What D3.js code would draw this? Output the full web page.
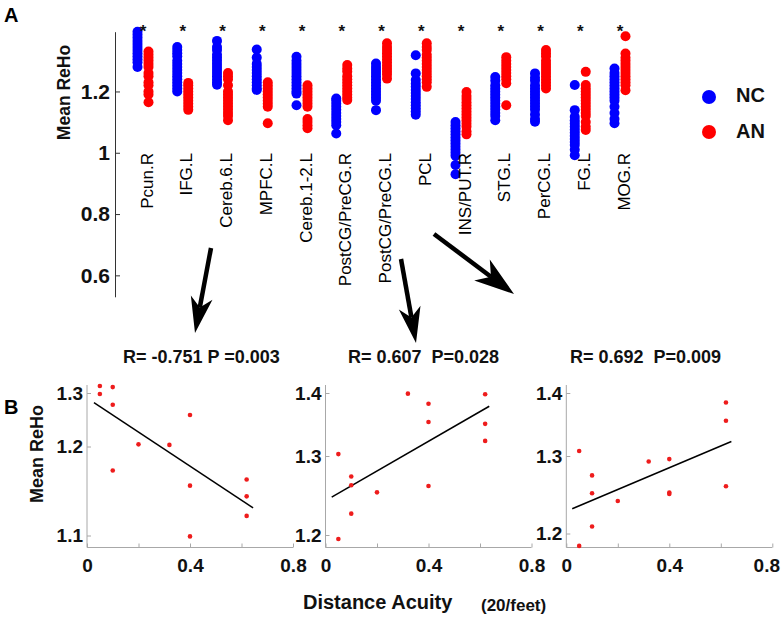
<!DOCTYPE html>
<html>
<head>
<meta charset="utf-8">
<script src="https://cdn.jsdelivr.net/npm/d3@7"></script>
<style>
  html, body { margin: 0; padding: 0; background: #fff; }
  svg { display: block; font-family: "Liberation Sans", Arial, Helvetica, sans-serif; }
</style>
</head>
<body>
<svg id="chart" width="784" height="620"></svg>
<script>
// ---------- Panel A data ----------
const categories = ["Pcun.R","IFG.L","Cereb.6.L","MPFC.L","Cereb.1-2.L","PostCG/PreCG.R","PostCG/PreCG.L","PCL","INS/PUT.R","STG.L","PerCG.L","FG.L","MOG.R"];
const ncValues = [
  [1.395,1.385,1.375,1.365,1.355,1.345,1.335,1.325,1.315,1.305,1.295,1.28],
  [1.345,1.335,1.325,1.315,1.30,1.29,1.28,1.27,1.26,1.25,1.24,1.23,1.22,1.21,1.20],
  [1.365,1.345,1.335,1.32,1.31,1.30,1.29,1.28,1.27,1.26,1.25,1.24,1.23,1.222],
  [1.337,1.311,1.29,1.28,1.27,1.26,1.25,1.24,1.23,1.22,1.21,1.205],
  [1.313,1.30,1.29,1.28,1.27,1.26,1.25,1.24,1.23,1.22,1.21,1.20,1.193,1.155],
  [1.177,1.17,1.16,1.15,1.14,1.13,1.12,1.11,1.10,1.09,1.063],
  [1.291,1.28,1.27,1.26,1.25,1.24,1.23,1.22,1.21,1.20,1.19,1.18,1.17,1.139],
  [1.318,1.259,1.237,1.225,1.215,1.205,1.195,1.185,1.175,1.165,1.155,1.145,1.135,1.124],
  [1.10,1.09,1.08,1.07,1.06,1.05,1.04,1.03,1.02,1.01,1.00,0.99,0.96,0.93],
  [1.247,1.235,1.22,1.21,1.20,1.19,1.18,1.17,1.16,1.15,1.14,1.13,1.12,1.106],
  [1.259,1.245,1.235,1.22,1.21,1.20,1.19,1.18,1.17,1.16,1.15,1.14,1.125,1.11,1.101],
  [1.221,1.139,1.117,1.105,1.095,1.085,1.075,1.065,1.055,1.045,1.035,1.025,1.01,0.992],
  [1.275,1.26,1.25,1.24,1.23,1.22,1.21,1.20,1.19,1.18,1.17,1.15,1.13,1.11,1.096]
];
const anValues = [
  [1.33,1.32,1.31,1.30,1.29,1.28,1.26,1.25,1.23,1.22,1.20,1.19,1.165],
  [1.228,1.22,1.21,1.20,1.19,1.18,1.17,1.16,1.15,1.14],
  [1.26,1.25,1.24,1.22,1.20,1.19,1.18,1.17,1.16,1.15,1.14,1.13,1.12,1.106],
  [1.23,1.22,1.21,1.20,1.19,1.18,1.17,1.16,1.15,1.096],
  [1.22,1.21,1.20,1.19,1.18,1.17,1.16,1.15,1.11,1.10,1.09,1.08],
  [1.286,1.275,1.265,1.25,1.24,1.23,1.22,1.21,1.20,1.19,1.18,1.172],
  [1.357,1.345,1.335,1.325,1.315,1.305,1.295,1.285,1.275,1.265,1.255,1.242],
  [1.357,1.345,1.335,1.32,1.31,1.30,1.29,1.28,1.27,1.26,1.25,1.24,1.23,1.215],
  [1.198,1.185,1.175,1.165,1.155,1.145,1.135,1.125,1.115,1.105,1.095,1.085,1.07,1.06],
  [1.312,1.30,1.29,1.28,1.27,1.26,1.25,1.24,1.227,1.155],
  [1.335,1.325,1.315,1.30,1.29,1.28,1.27,1.26,1.25,1.24,1.23,1.22,1.21],
  [1.264,1.221,1.21,1.20,1.19,1.18,1.17,1.16,1.15,1.14,1.13,1.12,1.10,1.085,1.074],
  [1.38,1.324,1.31,1.30,1.29,1.28,1.27,1.26,1.25,1.24,1.23,1.22,1.204]
];
const groupNames = ["NC","AN"];
const yTicksA = [0.6, 0.8, 1, 1.2];

// ---------- Panel B data ----------
const acuity1 = [0.05,0.05,0.1,0.1,0.2,0.32,0.4,0.1,0.4,0.62,0.62,0.62,0.4];
const reho1   = [1.313,1.298,1.311,1.278,1.204,1.203,1.259,1.173,1.156,1.163,1.144,1.122,1.099];
const fit1X = [0.027,0.645], fit1Y = [1.282,1.131];
const yTicks1 = [1.1,1.2,1.3];

const acuity2 = [0.05,0.1,0.1,0.1,0.05,0.2,0.32,0.4,0.4,0.4,0.62,0.62,0.62];
const reho2   = [1.303,1.274,1.263,1.227,1.195,1.254,1.399,1.383,1.354,1.262,1.398,1.351,1.324];
const fit2X = [0.024,0.636], fit2Y = [1.248,1.379];
const yTicks2 = [1.2,1.3,1.4];

const acuity3 = [0.05,0.05,0.1,0.1,0.1,0.2,0.32,0.4,0.4,0.4,0.62,0.62,0.62];
const reho3   = [1.308,1.184,1.275,1.252,1.209,1.242,1.293,1.296,1.253,1.251,1.385,1.356,1.261];
const fit3X = [0.023,0.641], fit3Y = [1.232,1.323];
const yTicks3 = [1.2,1.3,1.4];

const xTicksB = [0, 0.2, 0.4, 0.6, 0.8];
const statLabels = ["R= -0.751 P =0.003", "R= 0.607  P=0.028", "R= 0.692  P=0.009"];

// ---------- Drawing ----------
const svg = d3.select("#chart");
const BLUE = "#0000ff", RED = "#ff0000";

// Panel A
const yA = d3.scaleLinear().domain([0.53, 1.395]).range([296.8, 31.7]);
const xA = d3.scalePoint().domain(categories).range([143, 620]);
const offset = 5.5;

const axA = svg.append("g").attr("transform", "translate(115,0)")
  .call(d3.axisLeft(yA).tickValues(yTicksA).tickFormat(d3.format("~g"))
    .tickSizeInner(-5).tickSizeOuter(0).tickPadding(5));
axA.select(".domain").attr("stroke", "#333");
axA.selectAll(".tick line").attr("stroke", "#333");
axA.selectAll(".tick text").attr("font-size", 21).attr("font-weight", "bold")
  .attr("fill", "#111").attr("font-family", "Liberation Sans, Arial, sans-serif");

const dotsA = svg.append("g");
categories.forEach((c, i) => {
  dotsA.selectAll(null).data(ncValues[i]).enter().append("circle")
    .attr("cx", xA(c) - offset).attr("cy", d => yA(d)).attr("r", 5).attr("fill", BLUE);
  dotsA.selectAll(null).data(anValues[i]).enter().append("circle")
    .attr("cx", xA(c) + offset).attr("cy", d => yA(d)).attr("r", 5).attr("fill", RED);
});

// significance stars
svg.append("g").selectAll("text").data(categories).enter().append("text")
  .attr("x", d => xA(d)).attr("y", 37).attr("text-anchor", "middle")
  .attr("font-size", 17).attr("font-weight", "bold").attr("fill", "#111").text("*");

// category labels
svg.append("g").selectAll("text").data(categories).enter().append("text")
  .attr("transform", d => `translate(${xA(d) + 9.5},153) rotate(-90)`)
  .attr("text-anchor", "end").attr("font-size", 17).attr("fill", "#000").text(d => d);

// y label A
svg.append("text").attr("transform", "translate(70,92.5) rotate(-90)")
  .attr("text-anchor", "middle").attr("font-size", 17.5).attr("font-weight", "bold")
  .attr("fill", "#111").text("Mean ReHo");

// panel letters
svg.append("text").attr("x", 4).attr("y", 22).attr("font-size", 20).attr("font-weight", "bold").text("A");
svg.append("text").attr("x", 4).attr("y", 414).attr("font-size", 20).attr("font-weight", "bold").text("B");

// legend
const legColors = [BLUE, RED];
const leg = svg.append("g");
groupNames.forEach((g, i) => {
  const cy = 97 + i * 35;
  leg.append("circle").attr("cx", 709).attr("cy", cy).attr("r", 7).attr("fill", legColors[i]);
  leg.append("text").attr("x", 736).attr("y", cy + 5 + i * 1).attr("font-size", 20)
    .attr("font-weight", "bold").attr("fill", "#111").text(g);
});

// arrows (annotation)
const arrows = [
  {x1: 211, y1: 248, x2: 195, y2: 333, head: 36, w: 11},
  {x1: 401, y1: 259, x2: 416, y2: 343, head: 36, w: 11},
  {x1: 434, y1: 234, x2: 514, y2: 294, head: 40, w: 13}
];
const arrG = svg.append("g");
arrows.forEach(a => {
  const dx = a.x2 - a.x1, dy = a.y2 - a.y1, L = Math.hypot(dx, dy);
  const ux = dx / L, uy = dy / L, px = -uy, py = ux;
  const bx = a.x2 - ux * a.head, by = a.y2 - uy * a.head;
  const nx = a.x2 - ux * a.head * 0.72, ny = a.y2 - uy * a.head * 0.72;
  arrG.append("line").attr("x1", a.x1).attr("y1", a.y1).attr("x2", nx).attr("y2", ny)
    .attr("stroke", "#000").attr("stroke-width", 4.5);
  arrG.append("path")
    .attr("d", `M${a.x2},${a.y2} L${bx + px * a.w},${by + py * a.w} L${nx},${ny} L${bx - px * a.w},${by - py * a.w} Z`)
    .attr("fill", "#000");
});

// Panel B
const panels = [
  {x0: 87,    acuity: acuity1, reho: reho1, fitX: fit1X, fitY: fit1Y, ticks: yTicks1, tickPos: [535.5, 446.5, 393], labelX: 123, lastDx: 0},
  {x0: 325.5, acuity: acuity2, reho: reho2, fitX: fit2X, fitY: fit2Y, ticks: yTicks2, tickPos: [535, 456, 393],     labelX: 348, lastDx: 0},
  {x0: 566.3, acuity: acuity3, reho: reho3, fitX: fit3X, fitY: fit3Y, ticks: yTicks3, tickPos: [533.5, 456, 393],   labelX: 570, lastDx: -6}
];
const bTop = 385, bBottom = 547.5, bWidth = 206;
const AXIS_GRAY = "#a8a8a8";

panels.forEach((p, k) => {
  const x = d3.scaleLinear().domain([0, 0.8]).range([p.x0, p.x0 + bWidth]);
  const y = d3.scaleLinear().domain(p.ticks).range(p.tickPos);
  const g = svg.append("g");

  // frame lines
  g.append("line").attr("x1", p.x0).attr("x2", p.x0).attr("y1", bTop).attr("y2", bBottom)
    .attr("stroke", AXIS_GRAY).attr("stroke-width", 1);
  g.append("line").attr("x1", p.x0).attr("x2", p.x0 + bWidth).attr("y1", bBottom).attr("y2", bBottom)
    .attr("stroke", AXIS_GRAY).attr("stroke-width", 1);

  const ax = g.append("g").attr("transform", `translate(0,${bBottom})`)
    .call(d3.axisBottom(x).tickValues(xTicksB)
      .tickFormat(d => (Math.abs(d - 0.2) < 1e-9 || Math.abs(d - 0.6) < 1e-9) ? "" : d3.format("~g")(d))
      .tickSizeInner(-4).tickSizeOuter(0).tickPadding(11));
  ax.select(".domain").remove();
  ax.selectAll(".tick line").attr("stroke", AXIS_GRAY);
  ax.selectAll(".tick text").attr("font-size", 19).attr("font-weight", "bold").attr("fill", "#111")
    .attr("font-family", "Liberation Sans, Arial, sans-serif")
    .attr("dx", d => Math.abs(d - 0.8) < 1e-9 ? p.lastDx : 0);

  const ay = g.append("g").attr("transform", `translate(${p.x0},0)`)
    .call(d3.axisLeft(y).tickValues(p.ticks).tickFormat(d3.format(".1f"))
      .tickSizeInner(-4).tickSizeOuter(0).tickPadding(4));
  ay.select(".domain").remove();
  ay.selectAll(".tick line").attr("stroke", AXIS_GRAY);
  ay.selectAll(".tick text").attr("font-size", 19).attr("font-weight", "bold").attr("fill", "#111")
    .attr("font-family", "Liberation Sans, Arial, sans-serif");

  // fit line
  const fit = p.fitX.map((v, i) => [v, p.fitY[i]]);
  g.append("path").datum(fit)
    .attr("d", d3.line().x(d => x(d[0])).y(d => y(d[1])))
    .attr("stroke", "#000").attr("stroke-width", 1.5).attr("fill", "none");

  // points
  g.selectAll("circle").data(p.acuity.map((a, i) => [a, p.reho[i]])).enter().append("circle")
    .attr("cx", d => x(d[0])).attr("cy", d => y(d[1])).attr("r", 2.3).attr("fill", "#ee1c1c");

  // stat label
  svg.append("text").attr("x", p.labelX).attr("y", 363).attr("font-size", 18)
    .attr("font-weight", "bold").attr("fill", "#111").style("white-space", "pre").text(statLabels[k]);
});

// Panel B axis labels
svg.append("text").attr("transform", "translate(42.7,454) rotate(-90)")
  .attr("text-anchor", "middle").attr("font-size", 18).attr("font-weight", "bold")
  .attr("fill", "#111").text("Mean ReHo");
svg.append("text").attr("x", 303).attr("y", 609).attr("font-size", 20)
  .attr("font-weight", "bold").attr("fill", "#111").text("Distance Acuity");
svg.append("text").attr("x", 481).attr("y", 611).attr("font-size", 17)
  .attr("font-weight", "bold").attr("fill", "#111").text("(20/feet)");
</script>
</body>
</html>
